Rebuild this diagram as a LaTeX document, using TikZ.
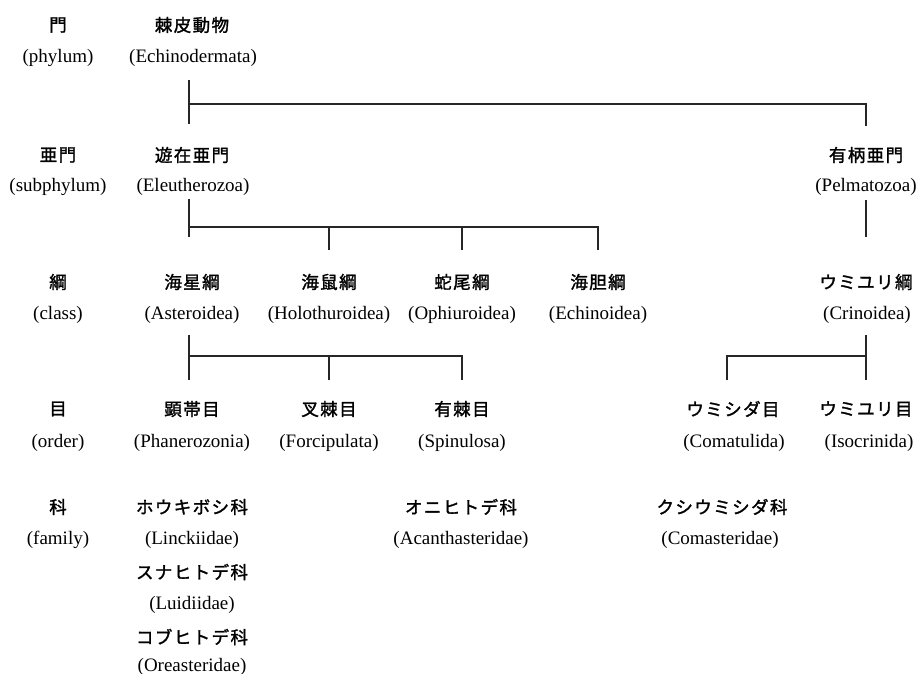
\documentclass[tikz,border=0pt]{standalone}
\usepackage{fontspec}
\setmainfont{Liberation Serif}
\newfontfamily\cjk[FakeBold=1.6,LetterSpace=8]{Noto Sans CJK JP}
\tikzset{
  jp/.style={font=\cjk\fontsize{17.5}{19}\selectfont, inner sep=0pt},
  en/.style={font=\fontsize{19}{21}\selectfont, inner sep=0pt},
  ln/.style={line width=1.3pt, draw=black!85},
}
\begin{document}
\begin{tikzpicture}[x=1pt,y=-1pt]
\useasboundingbox (0,0) rectangle (918,674);
% rank labels
\node[jp] (r1j) at (58,25) {門};
\node[en] (r1e) at (58,58) {(phylum)};
\node[jp] (r2j) at (58,155) {亜門};
\node[en] (r2e) at (58,187) {(subphylum)};
\node[jp] (r3j) at (58,282) {綱};
\node[en] (r3e) at (58,315) {(class)};
\node[jp] (r4j) at (58,409) {目};
\node[en] (r4e) at (58,443) {(order)};
\node[jp] (r5j) at (58,507) {科};
\node[en] (r5e) at (58,540) {(family)};
% phylum
\node[jp] (echj) at (192,25) {棘皮動物};
\node[en] (eche) at (193,58) {(Echinodermata)};
% subphyla
\node[jp] (eleuj) at (192,155) {遊在亜門};
\node[en] (eleue) at (193,187) {(Eleutherozoa)};
\node[jp] (pelmj) at (866,155) {有柄亜門};
\node[en] (pelme) at (866,187) {(Pelmatozoa)};
% classes
\node[jp] (astj) at (192,282) {海星綱};
\node[en] (aste) at (192,315) {(Asteroidea)};
\node[jp] (holj) at (329,282) {海鼠綱};
\node[en] (hole) at (329,315) {(Holothuroidea)};
\node[jp] (ophj) at (462,282) {蛇尾綱};
\node[en] (ophe) at (462,315) {(Ophiuroidea)};
\node[jp] (ecij) at (598,282) {海胆綱};
\node[en] (ecie) at (598,315) {(Echinoidea)};
\node[jp] (crij) at (866,282) {ウミユリ綱};
\node[en] (crie) at (867,315) {(Crinoidea)};
% orders
\node[jp] (phaj) at (192,409) {顕帯目};
\node[en] (phae) at (192,443) {(Phanerozonia)};
\node[jp] (forj) at (329,409) {叉棘目};
\node[en] (fore) at (329,443) {(Forcipulata)};
\node[jp] (spij) at (462,409) {有棘目};
\node[en] (spie) at (462,443) {(Spinulosa)};
\node[jp] (comj) at (733,409) {ウミシダ目};
\node[en] (come) at (734,443) {(Comatulida)};
\node[jp] (isoj) at (866,409) {ウミユリ目};
\node[en] (isoe) at (869,443) {(Isocrinida)};
% families
\node[jp] (linj) at (192,507) {ホウキボシ科};
\node[en] (line) at (192,540) {(Linckiidae)};
\node[jp] (luij) at (192,572) {スナヒトデ科};
\node[en] (luie) at (192,605) {(Luidiidae)};
\node[jp] (orej) at (192,637) {コブヒトデ科};
\node[en] (oree) at (192,667) {(Oreasteridae)};
\node[jp] (acaj) at (461,507) {オニヒトデ科};
\node[en] (acae) at (461,540) {(Acanthasteridae)};
\node[jp] (cmsj) at (722,507) {クシウミシダ科};
\node[en] (cmse) at (720,540) {(Comasteridae)};
% connector coordinates
\coordinate (a0) at (189,80);
\coordinate (a1) at (189,104);
\coordinate (a2) at (189,124);
\coordinate (a3) at (866,104);
\coordinate (a4) at (866,126);
\coordinate (b0) at (189,199);
\coordinate (b1) at (189,227);
\coordinate (b2) at (189,237);
\coordinate (b3) at (598,227);
\coordinate (b4) at (598,250);
\coordinate (b5) at (329,227);
\coordinate (b6) at (329,250);
\coordinate (b7) at (462,227);
\coordinate (b8) at (462,250);
\coordinate (c0) at (866,200);
\coordinate (c1) at (866,237);
\coordinate (d0) at (189,335);
\coordinate (d1) at (189,356);
\coordinate (d2) at (189,380);
\coordinate (d3) at (462,356);
\coordinate (d4) at (462,380);
\coordinate (d5) at (329,356);
\coordinate (d6) at (329,380);
\coordinate (e0) at (866,335);
\coordinate (e1) at (866,356);
\coordinate (e2) at (866,380);
\coordinate (e3) at (727,356);
\coordinate (e4) at (727,380);
% connectors
\draw[ln] (a0) -- (a2);
\draw[ln] (a1) -- (a3) -- (a4);
\draw[ln] (b0) -- (b2);
\draw[ln] (b1) -- (b3) -- (b4);
\draw[ln] (b5) -- (b6);
\draw[ln] (b7) -- (b8);
\draw[ln] (c0) -- (c1);
\draw[ln] (d0) -- (d2);
\draw[ln] (d1) -- (d3) -- (d4);
\draw[ln] (d5) -- (d6);
\draw[ln] (e0) -- (e2);
\draw[ln] (e1) -- (e3) -- (e4);
\end{tikzpicture}
\end{document}
